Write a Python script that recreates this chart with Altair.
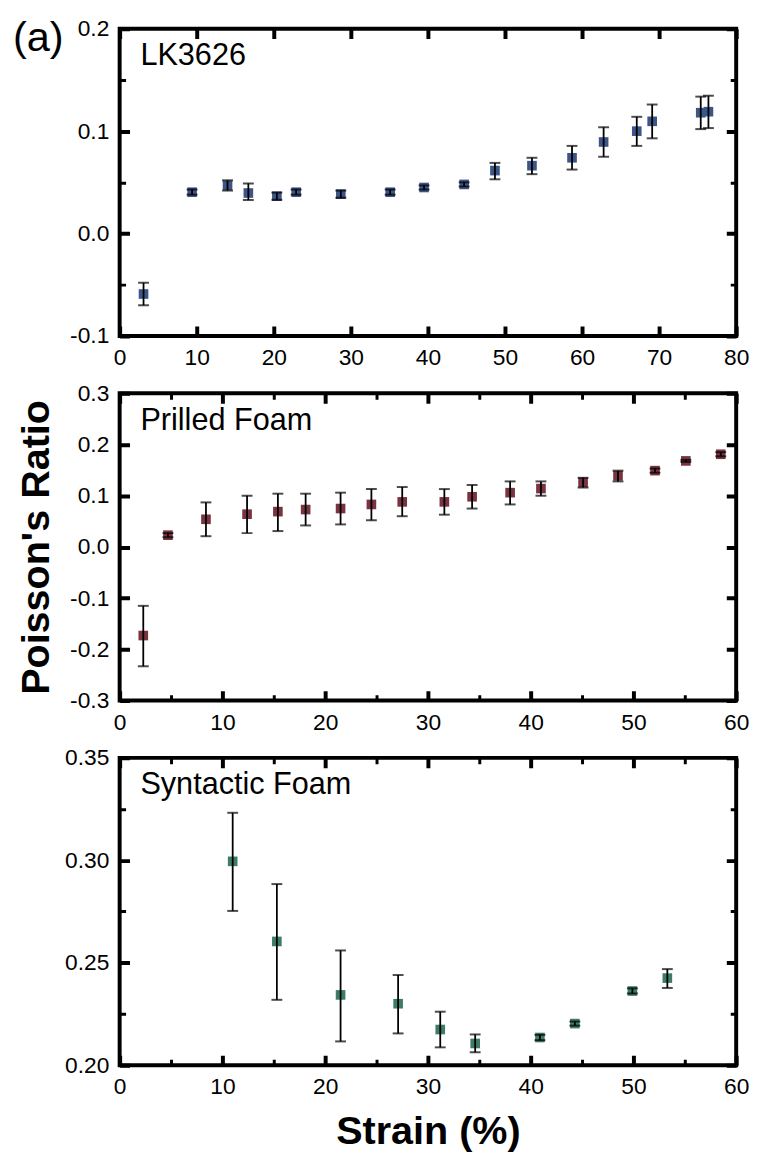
import altair as alt
import pandas as pd

# ---------------- data ----------------
# Panel 1: LK3626
strain_lk = [3.1, 9.4, 14.0, 16.7, 20.4, 22.9, 28.7, 35.1, 39.5, 44.7, 48.7, 53.5, 58.7, 62.8, 67.1, 69.1, 75.4, 76.4]
nu_lk = [-0.059, 0.0404, 0.047, 0.0396, 0.0365, 0.0404, 0.0385, 0.0404, 0.045, 0.048, 0.0615, 0.0663, 0.074, 0.0894, 0.100, 0.1096, 0.118, 0.119]
lo_lk = [-0.070, 0.038, 0.042, 0.0327, 0.033, 0.038, 0.035, 0.038, 0.043, 0.046, 0.053, 0.058, 0.0625, 0.075, 0.0856, 0.093, 0.102, 0.103]
hi_lk = [-0.048, 0.043, 0.052, 0.049, 0.040, 0.043, 0.042, 0.043, 0.047, 0.050, 0.069, 0.074, 0.0856, 0.1038, 0.114, 0.126, 0.1337, 0.1346]

# Panel 2: Prilled Foam
strain_pf = [2.3, 4.7, 8.4, 12.4, 15.4, 18.1, 21.5, 24.5, 27.5, 31.6, 34.3, 38.0, 41.0, 45.1, 48.5, 52.1, 55.1, 58.5]
nu_pf = [-0.173, 0.023, 0.054, 0.064, 0.069, 0.073, 0.075, 0.083, 0.088, 0.088, 0.098, 0.106, 0.114, 0.126, 0.139, 0.149, 0.168, 0.181]
lo_pf = [-0.233, 0.019, 0.021, 0.027, 0.031, 0.042, 0.044, 0.052, 0.060, 0.063, 0.075, 0.083, 0.100, 0.116, 0.128, 0.145, 0.166, 0.177]
hi_pf = [-0.115, 0.027, 0.087, 0.100, 0.104, 0.104, 0.106, 0.113, 0.117, 0.113, 0.121, 0.128, 0.128, 0.135, 0.149, 0.153, 0.170, 0.185]

# Panel 3: Syntactic Foam
strain_sf = [11.0, 15.3, 21.5, 27.1, 31.2, 34.6, 40.9, 44.3, 49.9, 53.3]
nu_sf = [0.2995, 0.2604, 0.2343, 0.2300, 0.2174, 0.2106, 0.2135, 0.2203, 0.2362, 0.2425]
lo_sf = [0.2753, 0.2319, 0.2116, 0.2155, 0.2087, 0.2063, 0.2122, 0.2193, 0.2350, 0.2377]
hi_sf = [0.3232, 0.2884, 0.2560, 0.2440, 0.2261, 0.2150, 0.2148, 0.2213, 0.2375, 0.2469]

# tick values (major + minor)
xticks_80 = [0, 5, 10, 15, 20, 25, 30, 35, 40, 45, 50, 55, 60, 65, 70, 75, 80]
xticks_60 = [0, 5, 10, 15, 20, 25, 30, 35, 40, 45, 50, 55, 60]
yticks_lk = [-0.1, -0.05, 0.0, 0.05, 0.1, 0.15, 0.2]
yticks_pf = [-0.3, -0.25, -0.2, -0.15, -0.1, -0.05, 0.0, 0.05, 0.1, 0.15, 0.2, 0.25, 0.3]
yticks_sf = [0.2, 0.225, 0.25, 0.275, 0.3, 0.325, 0.35]

labels = ["LK3626", "Prilled Foam", "Syntactic Foam"]
colors = ["#3d5687", "#7a3341", "#3e7c68"]

W, H = 624, 311
FONT = "Liberation Sans"
MINUS = "\u2212"


def major_test(mult):
    return f"abs(datum.value*{mult} - round(datum.value*{mult})) < 0.001"


def make_axis(values, mult, span, fmt, title=None, title_pad=10):
    test = major_test(mult)
    kw = dict(
        values=values,
        format=fmt,
        labelExpr=f"({test}) ? replace(datum.label, '{MINUS}', '-') : ''",
        labelOverlap=False,
        labelFlush=False,
        labelFontSize=23,
        labelPadding=11,
        labelFont=FONT,
        labelColor="black",
        ticks=False,
        domain=False,
        grid=True,
        gridColor="black",
        gridOpacity=1,
        gridDash={"condition": {"test": test, "value": [10, span - 20]}, "value": [6, span - 12]},
        gridWidth={"condition": {"test": test, "value": 4}, "value": 3},
        titleFont=FONT,
        titleFontSize=40,
        titleFontWeight="bold",
        titleColor="black",
        titlePadding=title_pad,
    )
    return alt.Axis(title=title, **kw)


def panel(strain, nu, lo, hi, color, label, xdom, xvals, ydom, yvals, ymult, yfmt,
          xtitle=None, ytitle=None, extra_label=False):
    df = pd.DataFrame({"strain": strain, "nu": nu, "lo": lo, "hi": hi})
    xs = alt.Scale(domain=xdom, nice=False, zero=False)
    ys = alt.Scale(domain=ydom, nice=False, zero=False)
    base = alt.Chart(df)
    pts = base.mark_square(size=95, opacity=1, color=color).encode(
        x=alt.X("strain:Q", scale=xs, axis=make_axis(xvals, 0.1, H, "d", xtitle, 13)),
        y=alt.Y("nu:Q", scale=ys, axis=make_axis(yvals, ymult, W, yfmt, ytitle, 13)),
    )
    bars = base.mark_rule(color="black", strokeWidth=1.8).encode(
        x="strain:Q", y="lo:Q", y2="hi:Q"
    )
    cap_lo = base.mark_tick(color="black", orient="horizontal", size=11, thickness=2).encode(
        x="strain:Q", y="lo:Q"
    )
    cap_hi = base.mark_tick(color="black", orient="horizontal", size=11, thickness=2).encode(
        x="strain:Q", y="hi:Q"
    )
    txt = alt.Chart(pd.DataFrame({"t": [label]})).mark_text(
        align="left", baseline="alphabetic", fontSize=31, font=FONT, color="black"
    ).encode(text="t:N", x=alt.value(21), y=alt.value(37))
    layers = [pts, bars, cap_lo, cap_hi, txt]
    if extra_label:
        a = alt.Chart(pd.DataFrame({"t": ["(a)"]})).mark_text(
            align="left", baseline="alphabetic", fontSize=42, font=FONT, color="black"
        ).encode(text="t:N", x=alt.value(-108), y=alt.value(23))
        layers.append(a)
    return alt.layer(*layers).properties(width=W, height=H)


p1 = panel(strain_lk, nu_lk, lo_lk, hi_lk, colors[0], labels[0], [0, 80], xticks_80,
           [-0.1, 0.2], yticks_lk, 10, ".1f", extra_label=True)
p2 = panel(strain_pf, nu_pf, lo_pf, hi_pf, colors[1], labels[1], [0, 60], xticks_60,
           [-0.3, 0.3], yticks_pf, 10, ".1f", ytitle="Poisson's Ratio")
p3 = panel(strain_sf, nu_sf, lo_sf, hi_sf, colors[2], labels[2], [0, 60], xticks_60,
           [0.2, 0.35], yticks_sf, 20, ".2f", xtitle="Strain (%)")

chart = alt.vconcat(p1, p2, p3, spacing=58, bounds="flush").properties(
    padding={"left": 3, "top": 1, "right": 0, "bottom": 0}
).configure_view(stroke="black", strokeWidth=4)

chart.save("out.html", embed_options={"renderer": "svg", "actions": False})
